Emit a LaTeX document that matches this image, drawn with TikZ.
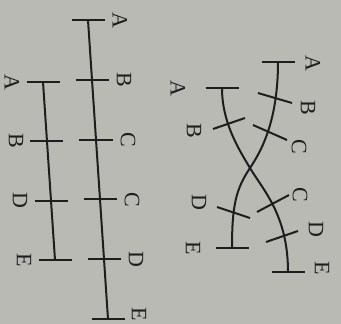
\documentclass[tikz,border=0pt]{standalone}
\usepackage{fontspec}
\setmainfont{Liberation Serif}
\usetikzlibrary{calc}
\definecolor{paper}{RGB}{186,186,181}
\definecolor{ink}{RGB}{30,30,30}

\begin{document}
\begin{tikzpicture}[x=1pt, y=1pt,
    chrom/.style={ink, line width=2pt},
    gene/.style={ink, rotate=-90, inner sep=0pt, font=\fontsize{22}{22}\selectfont}]
    \fill[paper] (0,0) rectangle (341,-324);
    \useasboundingbox (0,0) rectangle (341,-324);

    % straight pair
    \coordinate (longtop) at (88,-20);
    \coordinate (longbot) at (108,-319);
    \coordinate (shorttop) at (43,-82);
    \coordinate (shortbot) at (55,-260);
    \draw[chrom] (longtop) -- (longbot);
    \draw[chrom] (shorttop) -- (shortbot);

    \foreach \t/\lab [count=\i] in {0/A, 0.2/B, 0.4/C, 0.6/C, 0.8/D} {
        \draw[chrom] ($(longtop)!\t!(longbot)+(-16.5,0)$) -- ++(33,0);
        \node[gene] (long-\i) at ($(longtop)!\t!(longbot)+(32,0)$) {\lab};
    }
    \draw[chrom] ($(longbot)+(-16.5,0)$) -- ++(33,0);
    \node[gene] (long-6) at (139,-314) {E};
    \foreach \t/\lab [count=\i] in {0/A, 0.3333/B, 0.6667/D, 1/E} {
        \draw[chrom] ($(shorttop)!\t!(shortbot)+(-16.5,0)$) -- ++(33,0);
        \node[gene] (short-\i) at ($(shorttop)!\t!(shortbot)+(-31,0)$) {\lab};
    }

    % crossed pair
    \coordinate (ptop) at (278,-62);
    \coordinate (pbot) at (232,-248);
    \coordinate (qtop) at (222,-88);
    \coordinate (qbot) at (288,-272);
    \coordinate (cross) at (250,-168);
    \draw[chrom] (ptop) .. controls (278,-120) and (262,-150) .. (cross)
        .. controls (236,-189) and (232,-205) .. (pbot);
    \draw[chrom] (qtop) .. controls (222,-122) and (238,-148) .. (cross)
        .. controls (263,-190) and (288,-215) .. (qbot);

    \foreach \c in {ptop, pbot, qtop, qbot}
        \draw[chrom] ($(\c)+(-16.5,0)$) -- ++(33,0);
    \draw[chrom] (258,-93) -- (292,-103);
    \draw[chrom] (253,-125) -- (287,-140);
    \draw[chrom] (217,-207) -- (250,-218);
    \draw[chrom] (213,-129) -- (245,-118);
    \draw[chrom] (257,-212) -- (289,-195);
    \draw[chrom] (266,-242) -- (298,-231);

    \node[gene] (p-1) at (313,-63) {A};
    \node[gene] (p-2) at (308,-108) {B};
    \node[gene] (p-3) at (299,-147) {C};
    \node[gene] (p-4) at (199,-202) {D};
    \node[gene] (p-5) at (193,-248) {E};
    \node[gene] (q-1) at (178,-88) {A};
    \node[gene] (q-2) at (194,-131) {B};
    \node[gene] (q-3) at (300,-195) {C};
    \node[gene] (q-4) at (316,-229) {D};
    \node[gene] (q-5) at (322,-268) {E};
\end{tikzpicture}
\end{document}
